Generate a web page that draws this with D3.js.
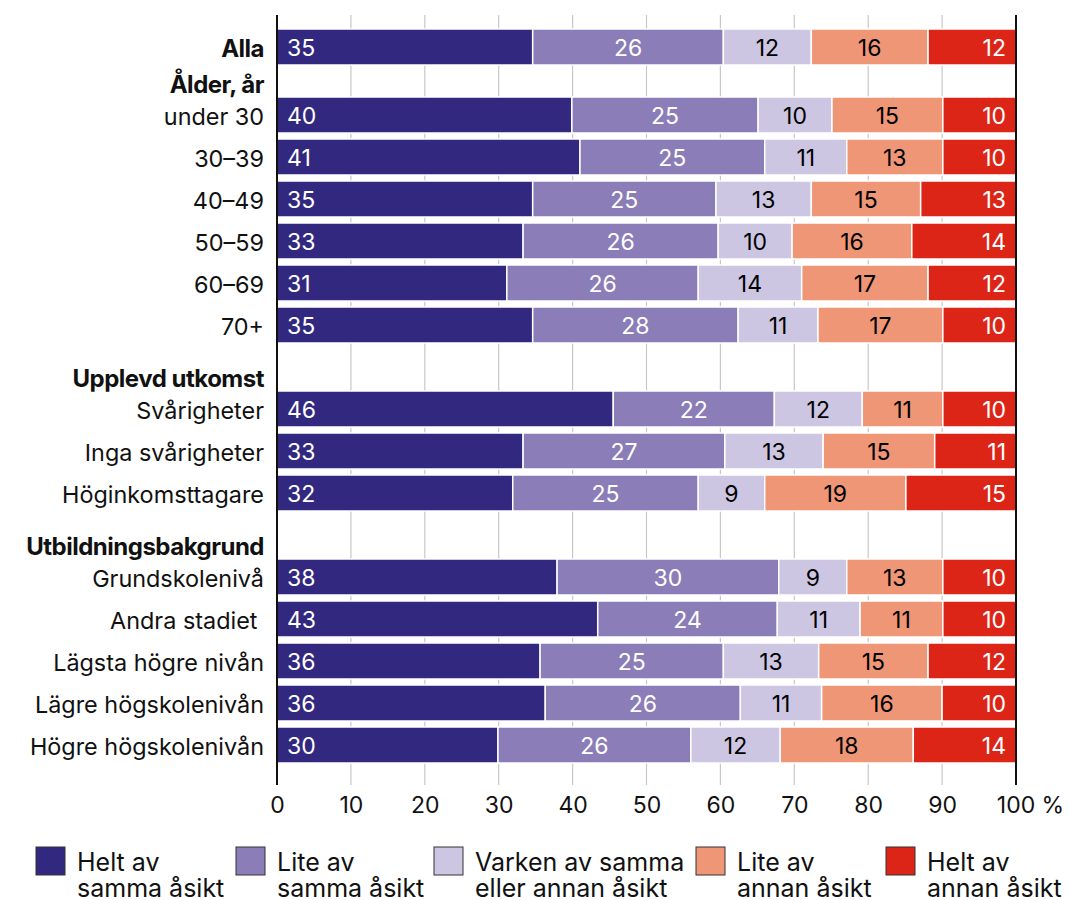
<!DOCTYPE html>
<html><head><meta charset="utf-8">
<script src="https://cdn.jsdelivr.net/npm/d3@7"></script>
<style>body{margin:0;background:#fff}svg{display:block}text{font-family:Inter,"Noto Sans",sans-serif;white-space:pre}</style>
</head><body>
<script>
// ---- DATA ----
const rowLabels = ["Alla","Ålder, år","under 30","30–39","40–49","50–59","60–69","70+",
  "Upplevd utkomst","Svårigheter","Inga svårigheter","Höginkomsttagare",
  "Utbildningsbakgrund","Grundskolenivå","Andra stadiet ","Lägsta högre nivån","Lägre högskolenivån","Högre högskolenivån"];
const headerLabels = ["Ålder, år","Upplevd utkomst","Utbildningsbakgrund"];
const boldLabels = ["Alla","Ålder, år","Upplevd utkomst","Utbildningsbakgrund"];
const categories = ["Alla","under 30","30–39","40–49","50–59","60–69","70+",
  "Svårigheter","Inga svårigheter","Höginkomsttagare",
  "Grundskolenivå","Andra stadiet ","Lägsta högre nivån","Lägre högskolenivån","Högre högskolenivån"];
const heltSamma  = [34.6,39.9,41.0,34.6,33.3,31.1,34.6,45.5,33.3,31.9,37.9,43.4,35.6,36.3,29.9];
const liteSamma  = [25.8,25.2,25.0,24.8,26.4,25.9,27.8,21.8,27.3,25.1,30.0,24.3,24.8,26.4,26.1];
const varken     = [11.9,10.0,11.1,12.9,10.0,14.0,10.8,11.9,13.3, 9.0, 9.2,11.2,12.9,11.0,12.1];
const liteAnnan  = [15.8,15.0,13.0,14.8,16.2,17.1,16.9,10.9,15.1,19.1,13.0,11.2,14.8,16.3,18.0];
const heltAnnan  = [11.9, 9.9, 9.9,12.9,14.1,11.9, 9.9, 9.9,11.0,14.9, 9.9, 9.9,11.9,10.0,13.9];
const seriesNames = ["Helt av samma åsikt","Lite av samma åsikt","Varken av samma eller annan åsikt","Lite av annan åsikt","Helt av annan åsikt"];
const legendLines = [["Helt av","samma åsikt"],["Lite av","samma åsikt"],["Varken av samma","eller annan åsikt"],["Lite av","annan åsikt"],["Helt av","annan åsikt"]];
const colors = ["#32287f","#8a7db8","#cdc6e3","#ef9677","#dc2516"];
const labelColors = ["#fff","#fff","#000","#000","#fff"];
const xTicks = [0,10,20,30,40,50,60,70,80,90,100];

// ---- LAYOUT ----
const W = 1068, H = 900;
const svg = d3.select("body").append("svg").attr("width", W).attr("height", H);
const x = d3.scaleLinear().domain([0,100]).range([277,1016]);
const barH = 36, pitch = 42, plotTop = 15, plotBottom = 785;

// compute row centers
const centers = {};
let yPos = 47, pendingHeader = null, firstHeader = true;
rowLabels.forEach((r, i) => {
  if (i === 0) { centers[r] = yPos; return; }
  if (headerLabels.includes(r)) {
    yPos += firstHeader ? 26 : 42;
    firstHeader = false;
    pendingHeader = r;
    return;
  }
  yPos += pitch;
  centers[r] = yPos;
  if (pendingHeader) { centers[pendingHeader] = yPos - 32; pendingHeader = null; }
});

// grid
svg.append("g").selectAll("line").data(xTicks.filter(t => t > 0 && t < 100)).join("line")
  .attr("x1", d => x(d)).attr("x2", d => x(d)).attr("y1", plotTop).attr("y2", plotBottom)
  .attr("stroke", "#c8c8c8").attr("stroke-width", 1.2);

// stacked data
const table = categories.map((c, i) => ({cat: c, v: [heltSamma[i], liteSamma[i], varken[i], liteAnnan[i], heltAnnan[i]]}));
const keys = [0,1,2,3,4];
const stack = d3.stack().keys(keys).value((d, k) => d.v[k]);
const stacked = stack(table);

const gBars = svg.append("g");
stacked.forEach((layer, k) => {
  gBars.selectAll(null).data(layer).join("rect")
    .attr("x", d => x(d[0])).attr("width", d => x(d[1]) - x(d[0]))
    .attr("y", d => centers[d.data.cat] - barH/2).attr("height", barH)
    .attr("fill", colors[k]).attr("stroke", "#fff").attr("stroke-width", 1.5);
});
stacked.forEach((layer, k) => {
  gBars.selectAll(null).data(layer).join("text")
    .attr("x", d => k === 0 ? x(d[0]) + 10 : k === 4 ? x(d[1]) - 10 : (x(d[0]) + x(d[1]))/2)
    .attr("y", d => centers[d.data.cat] + 9)
    .attr("text-anchor", k === 0 ? "start" : k === 4 ? "end" : "middle")
    .attr("fill", labelColors[k]).attr("font-size", 23)
    .text(d => Math.round(d.data.v[k]));
});

// axis lines
[0,100].forEach(t => svg.append("line").attr("x1", x(t)).attr("x2", x(t)).attr("y1", plotTop).attr("y2", plotBottom)
  .attr("stroke", "#111").attr("stroke-width", 2));

// row labels
svg.append("g").selectAll("text").data(rowLabels).join("text")
  .attr("x", 264).attr("y", d => centers[d] + 9.5).attr("text-anchor", "end")
  .attr("font-size", d => boldLabels.includes(d) ? 24 : 23.4)
  .attr("letter-spacing", d => boldLabels.includes(d) ? -0.5 : 0)
  .attr("font-weight", d => boldLabels.includes(d) ? 700 : 400).attr("fill", "#111")
  .text(d => d);

// x axis tick labels
const ax = svg.append("g").attr("transform", `translate(0,${plotBottom})`)
  .call(d3.axisBottom(x).tickValues(xTicks).tickSize(0).tickPadding(0).tickFormat(d => d === 100 ? "100 %" : d));
ax.select(".domain").remove();
ax.selectAll("text").attr("font-size", 23).attr("fill", "#111").attr("dy", 0).attr("y", 28)
  .attr("font-family", "Inter")
  .attr("dx", d => d === 100 ? 14 : 0);

// legend
const legX = [36, 236, 434, 696, 886];
const lg = svg.append("g").selectAll("g").data(seriesNames).join("g")
  .attr("transform", (d, i) => `translate(${legX[i]},847)`);
lg.append("rect").attr("width", 29).attr("height", 28).attr("fill", (d, i) => colors[i])
  .attr("stroke", "#333").attr("stroke-width", 1);
lg.each(function(d, i) {
  const t = d3.select(this).append("text").attr("x", 41).attr("y", 24).attr("font-size", 25)
    .attr("fill", "#111");
  legendLines[i].forEach((ln, j) => t.append("tspan").attr("x", 41).attr("dy", j === 0 ? 0 : 25.5).text(ln));
});
</script>
</body></html>
